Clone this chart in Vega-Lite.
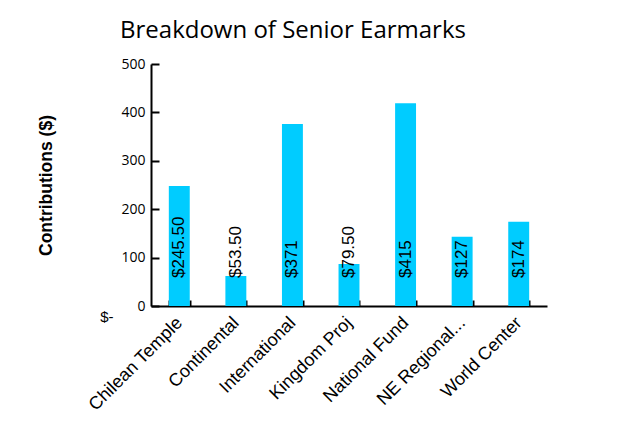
{
  "$schema": "https://vega.github.io/schema/vega-lite/v6.json",
  "width": 396,
  "height": 242,
  "autosize": {"type": "none"},
  "padding": {"left": 151, "top": 64, "right": 87, "bottom": 118},
  "background": "white",
  "title": {
    "text": "Breakdown of Senior Earmarks",
    "anchor": "start",
    "frame": "group",
    "dx": -31,
    "font": "Open Sans",
    "fontSize": 24,
    "fontWeight": "normal",
    "color": "black",
    "offset": 14
  },
  "data": {
    "values": [
      {"project": "Chilean Temple", "value": 248, "label": "$245.50"},
      {"project": "Continental", "value": 62, "label": "$53.50"},
      {"project": "International", "value": 376, "label": "$371"},
      {"project": "Kingdom Proj", "value": 87, "label": "$79.50"},
      {"project": "National Fund", "value": 419, "label": "$415"},
      {"project": "NE Regional...", "value": 143, "label": "$127"},
      {"project": "World Center", "value": 174, "label": "$174"}
    ]
  },
  "encoding": {
    "x": {
      "field": "project",
      "type": "nominal",
      "sort": null,
      "scale": {"paddingInner": 0.63, "paddingOuter": 0.315},
      "axis": {
        "title": null,
        "domainColor": "black",
        "domainWidth": 2,
        "tickColor": "black",
        "tickWidth": 2,
        "tickSize": -6,
        "tickBand": "extent",
        "labelAngle": -45,
        "labelAlign": "right",
        "labelBaseline": "middle",
        "labelFont": "Liberation Sans",
        "labelFontSize": 18,
        "labelColor": "black",
        "labelPadding": 20,
        "grid": false
      }
    }
  },
  "layer": [
    {
      "mark": {"type": "bar", "color": "#00CCFF"},
      "encoding": {
        "y": {
          "field": "value",
          "type": "quantitative",
          "scale": {"domain": [0, 500]},
          "axis": {
            "orient": "left",
            "title": null,
            "values": [0, 100, 200, 300, 400, 500],
            "domainColor": "black",
            "domainWidth": 2,
            "tickColor": "black",
            "tickWidth": 2,
            "tickSize": -8,
            "labelFont": "Open Sans",
            "labelFontSize": 14,
            "labelColor": "black",
            "labelPadding": 14,
            "grid": false
          }
        }
      }
    },
    {
      "mark": {
        "type": "text",
        "angle": 270,
        "align": "left",
        "baseline": "middle",
        "dx": 28,
        "font": "Liberation Sans",
        "fontSize": 17,
        "color": "black"
      },
      "encoding": {
        "y": {
          "datum": 0,
          "type": "quantitative",
          "axis": {
            "orient": "left",
            "title": "Contributions ($)",
            "titleFont": "Liberation Sans",
            "titleFontSize": 17.5,
            "titleFontWeight": "bold",
            "titleColor": "black",
            "titlePadding": 44,
            "values": [0],
            "labelExpr": "'$-'",
            "labelAngle": 0,
            "labelAlign": "right",
            "labelBaseline": "middle",
            "domain": false,
            "ticks": false,
            "labelPadding": 38,
            "labelOffset": 10,
            "labelFont": "Liberation Sans",
            "labelFontSize": 15,
            "labelColor": "black",
            "grid": false
          }
        },
        "text": {"field": "label"}
      }
    }
  ],
  "resolve": {"axis": {"y": "independent"}},
  "config": {"view": {"stroke": null}}
}
